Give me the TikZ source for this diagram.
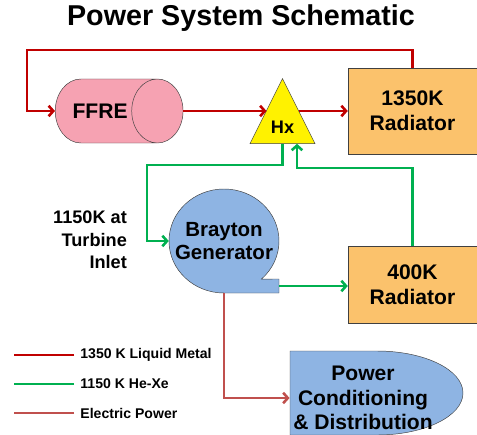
\documentclass[tikz,border=0pt]{standalone}
\usepackage{fontspec}
\setmainfont{Liberation Sans}
\usetikzlibrary{arrows.meta,positioning,calc,shapes.geometric}
\definecolor{hotc}{RGB}{192,0,0}
\definecolor{coolc}{RGB}{0,176,80}
\definecolor{elc}{RGB}{192,80,77}
\definecolor{pk}{RGB}{246,162,178}
\definecolor{rd}{RGB}{251,194,108}
\definecolor{bl}{RGB}{142,180,227}
\tikzset{rad/.style={draw=black!75,fill=rd,minimum width=3.87cm,align=center,font=\fontsize{18}{21}\selectfont\bfseries},
 tank/.style={cylinder,shape border rotate=0,shape aspect=2.3,draw=black!75,fill=pk,minimum width=1.92cm,minimum height=3.25cm,font=\fontsize{18}{21}\selectfont\bfseries},
 hxc/.style={isosceles triangle,isosceles triangle stretches,shape border rotate=90,draw=black!75,fill=yellow,minimum width=1.95cm,minimum height=1.95cm,inner sep=0pt},
 gen/.style={draw=black!75,fill=bl},
 gentxt/.style={align=center,inner sep=1pt,font=\fontsize{17.5}{19.6}\selectfont\bfseries},
 lbl/.style={font=\fontsize{15.5}{19}\selectfont\bfseries,align=right},
 leg/.style={font=\fontsize{12}{14}\selectfont\bfseries,inner sep=1pt,anchor=west},
 hot/.style={draw=hotc,line width=2.2pt},
 cool/.style={draw=coolc,line width=2.2pt},
 elec/.style={draw=elc,line width=2.2pt},
 arr/.style={-{Straight Barb[length=4pt,width=9pt]}}}
\begin{document}
\begin{tikzpicture}[x=0.03cm,y=0.03cm]
\useasboundingbox (0,0) rectangle (477,434);
\node[font=\fontsize{24.5}{28}\selectfont\bfseries] (ttl) at (241,416) {Power System Schematic};
% components
\node[tank,anchor=west] (ffre) at (55,323) {FFRE};
\node[hxc] (hx) at (282.5,310.5) {};
\node[font=\fontsize{15.5}{18}\selectfont\bfseries,anchor=base] (hxt) at ($(hx.apex)+(0,-56)$) {Hx};
\node[rad,minimum height=2.58cm] (rad1) at (412.5,323) {1350K\\Radiator};
\node[rad,minimum height=2.31cm] (rad2) at (412.5,149.5) {400K\\Radiator};
\coordinate (bc) at (224,193);
\filldraw[gen] ($(bc)+(0,-52)$) arc[start angle=270,end angle=-47,x radius=55,y radius=52]
 -- ($(bc)+(55,-38)$) -- ($(bc)+(55,-52)$) -- cycle;
\node[gentxt,minimum width=3.3cm,minimum height=3.12cm] (bray) at (bc) {Brayton\\Generator};
\filldraw[gen] (290,83) -- (377,83) arc[start angle=90,end angle=-90,x radius=86,y radius=42] -- (290,-1) -- cycle;
\node[gentxt,font=\fontsize{18}{20.8}\selectfont\bfseries,minimum width=4.38cm,inner sep=3pt] (pcd) at (363,36) {Power\\Conditioning\\\& Distribution};
\node[lbl,anchor=east] (inl) at (131,194) {1150K at\\Turbine\\Inlet};
% liquid metal loop
\coordinate (lp) at (27,384);
\draw[hot,arr] (rad1.north) |- (lp) |- (ffre.west);
\draw[hot,arr] (ffre.east) -- ([xshift=-0.48cm]ffre.east -| hx.apex);
\draw[hot,arr] ([xshift=0.48cm]ffre.east -| hx.apex) -- (ffre.east -| rad1.west);
% gas loop
\coordinate (ga) at (147,269);
\draw[cool,arr] (hx.south) |- (ga) |- (bray.west);
\coordinate (gb) at (297,266);
\draw[cool,arr] (rad2.north) |- (gb) -- (gb |- hx.south);
\coordinate (tab) at ($(bc)+(55,-45)$);
\draw[cool,arr] (tab) -- (tab -| rad2.west);
% power
\draw[elec,arr] (bray.south) |- (pcd.west);
% legend
\node[leg] (lg1) at (79,79) {1350 K Liquid Metal};
\node[leg] (lg2) at (79,50) {1150 K He-Xe};
\node[leg] (lg3) at (79,21) {Electric Power};
\draw[hot,line width=2.4pt] (lg1.west) ++(-5,0) -- ++(-60,0);
\draw[cool,line width=2.4pt] (lg2.west) ++(-5,0) -- ++(-60,0);
\draw[elec,line width=2.4pt] (lg3.west) ++(-5,0) -- ++(-60,0);
\end{tikzpicture}
\end{document}
